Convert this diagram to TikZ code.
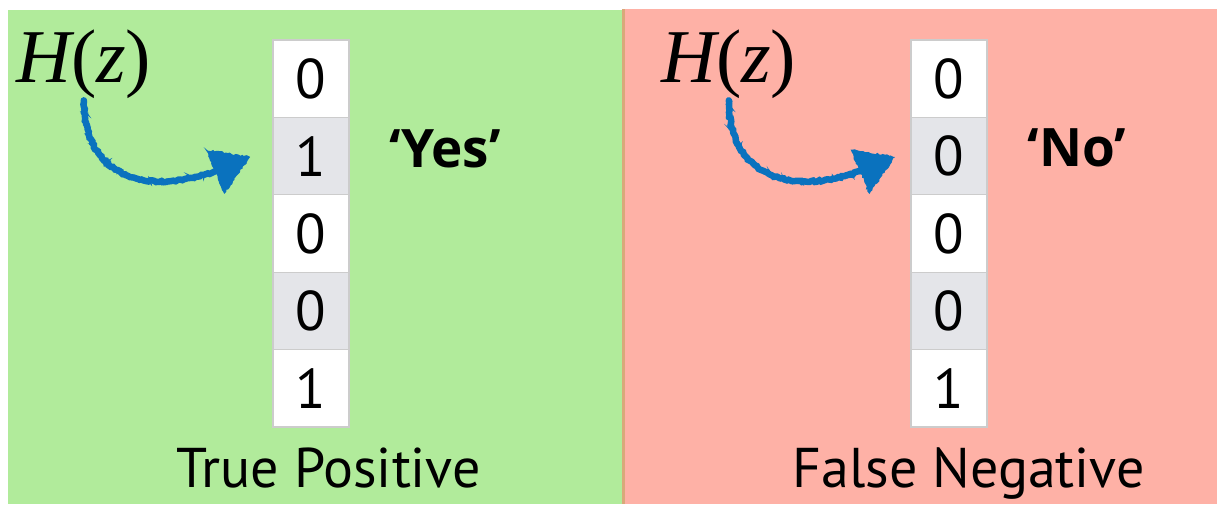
\documentclass[tikz,border=0pt]{standalone}
\usepackage{fontspec}
\setmainfont{Liberation Serif}
\newfontfamily\sfm{PT Sans}
\newfontfamily\sfb{Open Sans}
\usetikzlibrary{arrows.meta,decorations.pathmorphing,calc}
\definecolor{bggreen}{HTML}{B1EB9B}
\definecolor{bgpink}{HTML}{FEB1A6}
\definecolor{divider}{HTML}{D9A97A}
\definecolor{cellline}{HTML}{CCCCCC}
\definecolor{cellgray}{HTML}{E4E5E9}
\definecolor{chalkblue}{HTML}{0A72BE}
\begin{document}
\begin{tikzpicture}[x=1pt,y=-1pt,
  cell/.style={draw=cellline, line width=1.2pt, fill=white, minimum width=76pt,
    minimum height=77.4pt, inner sep=0pt, font=\sfm\fontsize{56}{60}\selectfont},
  graycell/.style={cell, fill=cellgray},
  hlabel/.style={anchor=base west, inner sep=2pt, font=\fontsize{76}{80}\selectfont},
  answer/.style={anchor=base, inner sep=0pt, font=\sfb\bfseries\fontsize{53}{60}\selectfont},
  caption/.style={anchor=base, inner sep=0pt, font=\sfm\fontsize{56}{60}\selectfont},
  chalk/.style={draw=chalkblue, line width=6.5pt, line cap=round,
    decorate, decoration={random steps, segment length=2pt, amplitude=0.8pt}},
  chalkthin/.style={draw=chalkblue, line width=2pt, line cap=round,
    decorate, decoration={random steps, segment length=1.5pt, amplitude=2pt}},
  chalkhead/.style={fill=chalkblue, draw=chalkblue, line width=1pt,
    decorate, decoration={random steps, segment length=2pt, amplitude=1pt}}
]
\pgfmathsetseed{7}
\useasboundingbox (0,0) rectangle (1217,504);
\fill[white] (0,0) rectangle (1217,504);
\fill[bggreen] (8,10) rectangle (622,504);
\fill[bgpink] (625,9) rectangle (1217,504);
\fill[divider] (622,9) rectangle (625,504);

% left panel
\node[hlabel] (hzL) at (14,82) {{\itshape H}({\itshape z})};
\node[cell]     (L1) at (311,78.7)  {0};
\node[graycell] (L2) at (311,156.1) {1};
\node[cell]     (L3) at (311,233.5) {0};
\node[graycell] (L4) at (311,310.9) {0};
\node[cell]     (L5) at (311,388.3) {1};
\node[answer] (yes) at (445,167) {‘Yes’};
\node[caption] (tp) at (328.5,487) {True Positive};
\coordinate (baseL) at ($(L2.west)+(-57,15)$);
\coordinate (tipL) at ($(L2.west)+(-23,1)$);
\draw[chalk] (hzL.south) .. controls (84,180) and (150,195) .. (baseL);
\draw[chalkthin] (hzL.south) .. controls (84,180) and (150,195) .. (baseL);
\path[chalkhead] ($(tipL)+(-43,-7)$) -- (tipL) -- ($(tipL)+(-25,36)$) -- cycle;

% right panel
\node[hlabel] (hzR) at (659,82) {{\itshape H}({\itshape z})};
\node[cell]     (R1) at (949,78.7)  {0};
\node[graycell] (R2) at (949,156.1) {0};
\node[cell]     (R3) at (949,233.5) {0};
\node[graycell] (R4) at (949,310.9) {0};
\node[cell]     (R5) at (949,388.3) {1};
\node[answer] (no) at (1077,166) {‘No’};
\node[caption] (fn) at (968.5,487) {False Negative};
\coordinate (baseR) at ($(R2.west)+(-50,15)$);
\coordinate (tipR) at ($(R2.west)+(-16,1)$);
\draw[chalk] (hzR.south) .. controls (729,180) and (795,195) .. (baseR);
\draw[chalkthin] (hzR.south) .. controls (729,180) and (795,195) .. (baseR);
\path[chalkhead] ($(tipR)+(-43,-7)$) -- (tipR) -- ($(tipR)+(-25,36)$) -- cycle;
\end{tikzpicture}
\end{document}
